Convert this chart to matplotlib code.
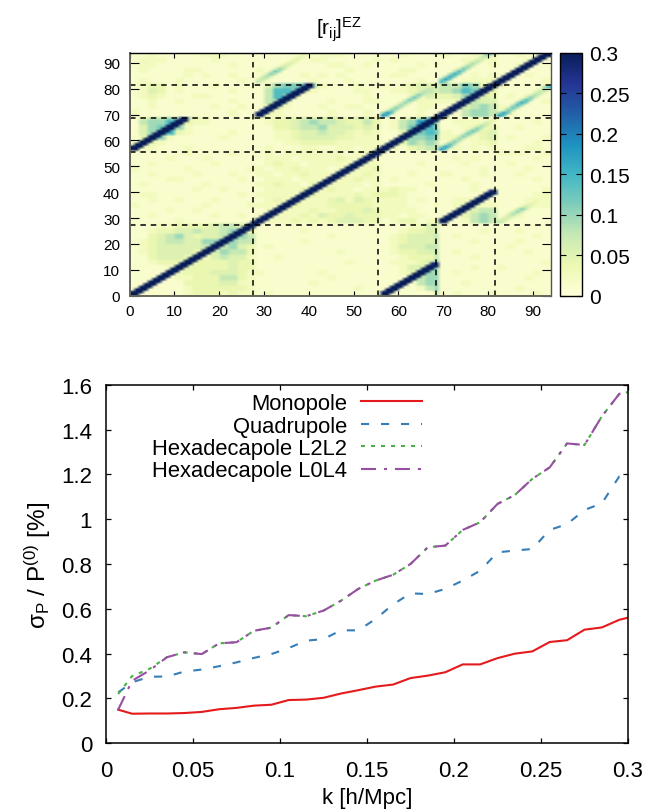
# covariance matrix heat map and multipole error curves

import numpy as np
import matplotlib
matplotlib.use('Agg')
import matplotlib.pyplot as plt

plt.rcParams['font.family'] = ['Liberation Sans', 'DejaVu Sans']
plt.rcParams['mathtext.default'] = 'regular'

# lower panel
k = [0.007, 0.015, 0.025, 0.035, 0.045, 0.055, 0.065, 0.075, 0.085, 0.095, 0.105,
     0.115, 0.125, 0.135, 0.145, 0.155, 0.165, 0.175, 0.185, 0.195, 0.205,
     0.215, 0.225, 0.235, 0.245, 0.255, 0.265, 0.275, 0.285, 0.295, 0.305]
monopole = [0.15, 0.132, 0.133, 0.133, 0.135, 0.14, 0.152, 0.158, 0.168, 0.172, 0.193,
            0.195, 0.203, 0.222, 0.237, 0.253, 0.262, 0.291, 0.302, 0.317, 0.352,
            0.352, 0.38, 0.40, 0.41, 0.452, 0.46, 0.507, 0.517, 0.551, 0.57]
quadrupole = [0.227, 0.272, 0.297, 0.298, 0.32, 0.329, 0.344, 0.361, 0.381, 0.398, 0.425,
              0.458, 0.465, 0.504, 0.504, 0.555, 0.62, 0.669, 0.666, 0.689, 0.726,
              0.77, 0.852, 0.86, 0.867, 0.952, 0.978, 1.041, 1.071, 1.191, 1.2]
hexa_l2l2 = [0.22, 0.30, 0.332, 0.384, 0.406, 0.398, 0.446, 0.451, 0.502, 0.516, 0.572,
             0.567, 0.592, 0.636, 0.689, 0.726, 0.752, 0.80, 0.875, 0.882, 0.952,
             0.986, 1.068, 1.108, 1.18, 1.231, 1.338, 1.331, 1.459, 1.559, 1.575]
hexa_l0l4 = [0.15, 0.279, 0.325, 0.384, 0.406, 0.398, 0.446, 0.451, 0.502, 0.516, 0.572,
             0.567, 0.592, 0.636, 0.689, 0.726, 0.752, 0.80, 0.875, 0.882, 0.952,
             0.986, 1.068, 1.108, 1.18, 1.231, 1.338, 1.331, 1.459, 1.559, 1.575]

# upper panel, one character = 2x2 matrix cells, top row first
level_values = [0.0, 0.012, 0.025, 0.04, 0.055, 0.075, 0.095, 0.115, 0.14, 0.17]
level_rows = [
    "11211111222111 11111112221111 1121111 211212 112111",
    "12221111121111 11111122111112 1211111 112112 111211",
    "12211111111211 11111111221121 1111212 111112 112111",
    "12111122111111 21111111112111 1122111 121111 111111",
    "11111121211211 11111212121111 1221111 111212 111211",
    "12111211111121 21111121112111 1111211 112222 111112",
    "12331211121111 14677752111211 2123444 557632 211112",
    "12431211111211 15887321111221 1223454 568743 111121",
    "12321112211111 15873111111121 1112243 346743 121211",
    "11211211111211 15621111211122 1111222 225544 111112",
    "11211111121121 13421112112211 1111221 114565 211111",
    "21111111111211 12211111211121 1111211 115665 221111",
    "13556653211112 22233444433442 1123577 211222 111111",
    "15668932211111 12334565543353 1256986 122211 111121",
    "14679621111111 11334556444343 1257886 112223 112111",
    "14698321111211 11223445443232 1135787 211234 111111",
    "13862111112111 11223444433222 1126676 221234 121112",
    "25321111111111 11122333322222 1236565 111223 111121",
    "32211121111111 12111221122122 2213455 121212 111221",
    "11111121111211 12122222221221 1111111 111111 222112",
    "11112111211111 12221222232221 1111111 121211 111121",
    "11211111121111 12322122222322 1111211 112111 121111",
    "21111121111112 21223222122223 1111111 111121 111211",
    "11211112111211 22122322222232 1112111 211121 112111",
    "11112211111121 12221222322322 1211111 112111 111121",
    "12111111211111 22322132222212 1111121 111211 111111",
    "11111112112111 12222322322122 2322111 111212 111112",
    "12211111111121 22222332222323 3321111 111121 111122",
    "11211211121111 12322222342432 2221211 122211 111222",
    "21111111211112 22223222333332 2221112 123222 111122",
    "11112112111111 12222232233343 2222111 113455 112111",
    "11211111121121 22222324334333 2212211 113565 112111",
    "11111211111111 22223232344433 1233122 112565 211111",
    "11122333345543 11111111111111 1112244 111111 111111",
    "11233445445653 11111211111111 1123344 111121 112111",
    "11345643445565 11111111211111 1234445 121111 111121",
    "12345544665655 11111211111111 1234445 111211 112111",
    "12344444555643 12111111111111 1244455 111111 121111",
    "12344443446553 11111111121111 1233445 121111 111211",
    "11344433245442 11211111111111 1123335 111211 111111",
    "11233343333433 11111111112111 1222346 111111 111112",
    "11112233333433 11111111111111 1124456 111211 211111",
    "11111233344432 21111112111111 1123566 121111 111121",
    "11111223335532 11111111211111 1112566 111111 111211",
    "11111133334422 11111121111111 1111566 112111 111111",
    "11111123333332 11111111111211 1111256 111111 112111",
    "11111123332322 12111111111111 1111115 121112 111121",
]

matrix_size = 94
block_edges = [27.5, 55.5, 68.5, 81.5]

# strong cross-multipole bands: first x, first y, values along the band
strong_x = [0, 28, 56, 69]
strong_y = [56, 69, 0, 28]
strong_values = [0.6, 0.6, 0.6, 0.6, 0.6, 0.6, 0.6, 0.6, 0.6, 0.6, 0.6, 0.5, 0.28]

# weak bands
weak_x = [28, 69, 56, 82, 69, 82]
weak_y = [82, 82, 69, 69, 56, 28]
weak_values = [
    [.08, .08, .09, .11, .12, .10, .07, .06, .05, .05, .04, .03],
    [.15, .17, .16, .16, .14, .12, .10, .09, .08, .07, .09, .15],
    [.19, .18, .12, .11, .10, .10, .12, .12, .11, .09, .08, .06, .05],
    [.18, .17, .12, .13, .14, .16, .14, .11, .09, .08, .08, .15],
    [.18, .17, .13, .11, .10, .11, .12, .13, .11, .09, .07, .05],
    [.08, .07, .07, .09, .10, .11, .07, .05, .04, .03, .03, .03],
]

# build the matrix
rows = [r.replace(' ', '') for r in level_rows][::-1]
r = np.zeros((matrix_size, matrix_size))
for j in range(matrix_size):
    for i in range(matrix_size):
        r[j, i] = level_values[int(rows[j//2][i//2])]

# cell 69 belongs to the next block
r[:, 69] = r[:, 70]
r[69, :] = r[70, :]

for i in range(matrix_size):
    r[i, i] = 0.7
    if i > 0:
        r[i, i-1] = 0.6
        r[i-1, i] = 0.6

for x0, y0 in zip(strong_x, strong_y):
    for n, v in enumerate(strong_values):
        r[y0+n, x0+n] = v
        if n > 0:
            r[y0+n, x0+n-1] = max(r[y0+n, x0+n-1], v)
        if n < len(strong_values)-1:
            r[y0+n, x0+n+1] = max(r[y0+n, x0+n+1], v)

for x0, y0, vals in zip(weak_x, weak_y, weak_values):
    for n, v in enumerate(vals):
        r[y0+n, x0+n] = max(r[y0+n, x0+n], v)
        if x0+n+1 < matrix_size:
            r[y0+n, x0+n+1] = max(r[y0+n, x0+n+1], 0.7*v)
        if n > 0:
            r[y0+n, x0+n-1] = max(r[y0+n, x0+n-1], 0.6*v)

W = 671.0
H = 812.0
def axes_px(left, top, right, bottom):
    return fig.add_axes([left/W, 1-bottom/H, (right-left)/W, (bottom-top)/H])

fig = plt.figure(figsize=(6.71, 8.12), dpi=100)

# heat map
ax1 = axes_px(129.7, 53.5, 550.7, 296.7)
im = ax1.imshow(r, origin='lower', extent=(0, 94, 0, 94), aspect='auto',
                cmap='YlGnBu', vmin=0, vmax=0.3, interpolation='bilinear')
for e in block_edges:
    ax1.axvline(e, color='black', lw=1.1, dashes=(3.6, 3.2))
    ax1.axhline(e, color='black', lw=1.1, dashes=(3.6, 3.2))
ax1.set_xticks(np.arange(0, 91, 10))
ax1.set_yticks(np.arange(0, 91, 10))
ax1.tick_params(axis='x', direction='in', top=True, bottom=True, length=3.6, width=0.8, labelsize=11, pad=6)
ax1.tick_params(axis='y', direction='in', left=True, right=True, length=6.5, width=0.8, labelsize=11, pad=7)
ax1.spines['left'].set(color='#66665a', lw=1.4)
ax1.spines['bottom'].set(color='#66665a', lw=1.4)
ax1.spines['top'].set(lw=1.0)
ax1.spines['right'].set(color='#555555', lw=1.0)
fig.text(339/W, 1-30/H, '[r$_{ij}$]$^{EZ}$', fontsize=15, ha='center', va='center')

# colour bar
cax = axes_px(560.3, 53.5, 581.7, 296.7)
cb = fig.colorbar(im, cax=cax, ticks=[0, 0.05, 0.1, 0.15, 0.2, 0.25, 0.3])
cb.ax.set_yticklabels(['0', '0.05', '0.1', '0.15', '0.2', '0.25', '0.3'])
cb.ax.tick_params(direction='in', left=True, right=True, length=4.5, width=0.8, labelsize=15, pad=5)
cb.outline.set_linewidth(1.0)

# curves
ax2 = axes_px(106, 385.7, 628, 744.3)
ax2.plot(k, monopole, color='#e41a1c', lw=1.5, label='Monopole')
ax2.plot(k, quadrupole, color='#377eb8', lw=1.5, dashes=(3.9, 5.7), label='Quadrupole')
ax2.plot(k, hexa_l2l2, color='#4daf4a', lw=1.5, dashes=(1.9, 2.9), label='Hexadecapole L2L2')
ax2.plot(k, hexa_l0l4, color='#984ea3', lw=1.5, dashes=(7.2, 3.8, 1.5, 3.8), label='Hexadecapole L0L4')
ax2.set_xlim(0, 0.3)
ax2.set_ylim(0, 1.6)
ax2.set_xticks([0, 0.05, 0.1, 0.15, 0.2, 0.25, 0.3])
ax2.set_xticklabels(['0', '0.05', '0.1', '0.15', '0.2', '0.25', '0.3'])
ax2.set_yticks([0, 0.2, 0.4, 0.6, 0.8, 1, 1.2, 1.4, 1.6])
ax2.set_yticklabels(['0', '0.2', '0.4', '0.6', '0.8', '1', '1.2', '1.4', '1.6'])
ax2.tick_params(axis='x', direction='in', top=True, length=3.6, width=0.9, labelsize=16, pad=12)
ax2.tick_params(axis='y', direction='in', right=True, length=3.6, width=0.9, labelsize=16, pad=10)
for s in ax2.spines.values():
    s.set_linewidth(1.1)
ax2.set_xlabel('k [h/Mpc]', fontsize=16, labelpad=4)
ax2.set_ylabel('σ$_{P}$ / P$^{(0)}$ [%]', fontsize=17.5, labelpad=6)
ax2.legend(loc='upper left', bbox_to_anchor=(0.0755, 0.995), frameon=False, markerfirst=False,
           fontsize=15.8, handlelength=2.75, handletextpad=0.65, labelspacing=0.067,
           borderaxespad=0, borderpad=0.3)

plt.savefig('out.png', dpi=100)
